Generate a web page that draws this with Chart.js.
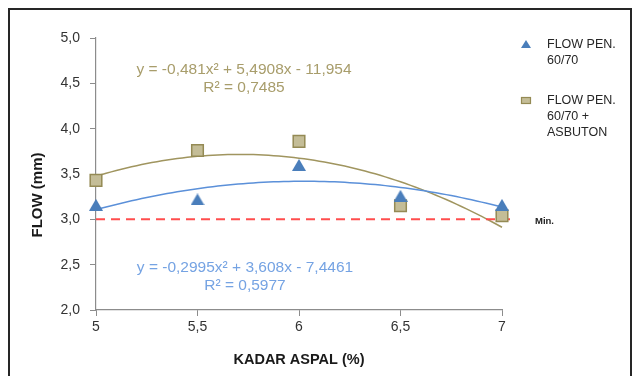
<!DOCTYPE html>
<html>
<head>
<meta charset="utf-8">
<script src="https://cdn.jsdelivr.net/npm/chart.js@4/dist/chart.umd.min.js"></script>
<style>
  html, body { margin: 0; padding: 0; background: #fff; }
  #wrap { width: 638px; height: 376px; position: relative; }
</style>
</head>
<body>
<div id="wrap"><canvas id="chart"></canvas></div>
<script>
// data
const kadarAspal = [5, 5.5, 6, 6.5, 7];
const flowPen = [3.16, 3.22, 3.6, 3.26, 3.16];
const flowAsbuton = [3.43, 3.76, 3.86, 3.15, 3.04];

// polynomial trendlines as printed on the chart (a*x^2 + b*x + c)
const trendPen = [-0.2995, 3.608, -7.4461];
const trendAsbuton = [-0.481, 5.4908, -11.954];
const eqPen = ['y = -0,2995x² + 3,608x - 7,4461', 'R² = 0,5977'];
const eqAsbuton = ['y = -0,481x² + 5,4908x - 11,954', 'R² = 0,7485'];

// minimum flow limit
const minFlow = 3.0;
const minRange = [5, 7.05];
const minLabel = 'Min.';

const xTickLabels = ['5', '5,5', '6', '6,5', '7'];
const yTickLabels = ['2,0', '2,5', '3,0', '3,5', '4,0', '4,5', '5,0'];
const legendPen = ['FLOW PEN.', '60/70'];
const legendAsbuton = ['FLOW PEN.', '60/70 +', 'ASBUTON'];

const FONT = "'Liberation Sans', Arial, sans-serif";
const BLUE = '#4a7ebb';
const BLUE_LINE = '#5b90d9';
const BLUE_TEXT = '#75a3e3';
const TAN_FILL = '#c4bd97';
const TAN_EDGE = '#948a54';
const TAN_LINE = '#a0955f';
const TAN_TEXT = '#a89d6b';

// triangle marker centred on its box (like Excel)
function triangleMarker(w, h) {
  const c = document.createElement('canvas');
  c.width = w; c.height = h;
  const g = c.getContext('2d');
  g.fillStyle = BLUE;
  g.beginPath();
  g.moveTo(w / 2, 0);
  g.lineTo(w, h);
  g.lineTo(0, h);
  g.closePath();
  g.fill();
  return c;
}

const extras = {
  id: 'extras',
  beforeDatasetsDraw(chart) {
    const { ctx, scales: { x, y } } = chart;
    const drawTrend = (coef, color) => {
      ctx.save();
      ctx.strokeStyle = color;
      ctx.lineWidth = 1.5;
      ctx.beginPath();
      const x0 = kadarAspal[0], x1 = kadarAspal[kadarAspal.length - 1];
      for (let i = 0; i <= 80; i++) {
        const xv = x0 + (x1 - x0) * i / 80;
        const yv = coef[0] * xv * xv + coef[1] * xv + coef[2];
        const px = x.getPixelForValue(xv), py = y.getPixelForValue(yv);
        if (i === 0) ctx.moveTo(px, py); else ctx.lineTo(px, py);
      }
      ctx.stroke();
      ctx.restore();
    };
    drawTrend(trendAsbuton, TAN_LINE);
    drawTrend(trendPen, BLUE_LINE);
  },
  afterDraw(chart) {
    const { ctx, scales: { x, y } } = chart;
    ctx.save();
    // outer frame
    ctx.strokeStyle = '#262626';
    ctx.lineWidth = 2;
    ctx.strokeRect(9, 9, 622, 400);

    // axis titles
    ctx.fillStyle = '#1a1a1a';
    ctx.font = 'bold 14.5px ' + FONT;
    ctx.textAlign = 'center';
    ctx.textBaseline = 'middle';
    ctx.fillText('KADAR ASPAL (%)', (chart.chartArea.left + chart.chartArea.right) / 2, 360);
    ctx.save();
    ctx.translate(38, 195);
    ctx.rotate(-Math.PI / 2);
    ctx.font = 'bold 15px ' + FONT;
    ctx.fillText('FLOW (mm)', 0, 0);
    ctx.restore();

    // trendline equations
    ctx.font = '15.5px ' + FONT;
    ctx.fillStyle = TAN_TEXT;
    ctx.fillText(eqAsbuton[0], 244, 70);
    ctx.fillText(eqAsbuton[1], 244, 88);
    ctx.fillStyle = BLUE_TEXT;
    ctx.fillText(eqPen[0], 245, 268);
    ctx.fillText(eqPen[1], 245, 286);

    // min label
    ctx.textAlign = 'left';
    ctx.fillStyle = '#222';
    ctx.font = 'bold 9.5px ' + FONT;
    ctx.fillText(minLabel, 535, y.getPixelForValue(minFlow) + 2);

    // legend
    ctx.font = '12.5px ' + FONT;
    ctx.fillStyle = '#262626';
    legendPen.forEach((t, i) => ctx.fillText(t, 547, 45 + i * 16));
    legendAsbuton.forEach((t, i) => ctx.fillText(t, 547, 101 + i * 16));
    ctx.fillStyle = BLUE;
    ctx.beginPath();
    ctx.moveTo(526, 40); ctx.lineTo(531, 48); ctx.lineTo(521, 48);
    ctx.closePath(); ctx.fill();
    ctx.fillStyle = TAN_FILL;
    ctx.strokeStyle = TAN_EDGE;
    ctx.lineWidth = 1.2;
    ctx.fillRect(521.5, 97.5, 9, 6);
    ctx.strokeRect(521.5, 97.5, 9, 6);
    ctx.restore();
  }
};

new Chart(document.getElementById('chart'), {
  type: 'scatter',
  data: {
    datasets: [
      {
        label: 'Min',
        type: 'line',
        data: minRange.map(v => ({ x: v, y: minFlow })),
        borderColor: '#ff4d4d',
        borderWidth: 2,
        borderDash: [9, 6],
        pointRadius: 0,
        clip: false,
        order: 3
      },
      {
        label: 'FLOW PEN. 60/70 + ASBUTON',
        data: kadarAspal.map((v, i) => ({ x: v, y: flowAsbuton[i] })),
        pointStyle: 'rect',
        pointRadius: 8.2,
        backgroundColor: TAN_FILL,
        borderColor: TAN_EDGE,
        borderWidth: 1.5,
        clip: false,
        order: 2
      },
      {
        label: 'FLOW PEN. 60/70',
        data: kadarAspal.map((v, i) => ({ x: v, y: flowPen[i] })),
        pointStyle: triangleMarker(14, 12),
        pointRadius: 7,
        clip: false,
        order: 1
      }
    ]
  },
  options: {
    responsive: true,
    maintainAspectRatio: false,
    animation: false,
    events: [],
    layout: { padding: { left: 10, right: 136, top: 38, bottom: 0 } },
    plugins: {
      legend: { display: false },
      tooltip: { enabled: false }
    },
    scales: {
      x: {
        type: 'linear',
        min: 5,
        max: 7,
        afterFit: s => { s.height = 66; },
        afterBuildTicks: s => { s.ticks = kadarAspal.map(v => ({ value: v })); },
        ticks: {
          callback: (v, i) => xTickLabels[i],
          color: '#333',
          font: { family: FONT, size: 14 },
          padding: 3,
          maxRotation: 0
        },
        grid: { drawOnChartArea: false, tickLength: 6, color: '#8c8c8c' },
        border: { color: '#8c8c8c', width: 1.2 }
      },
      y: {
        min: 2,
        max: 5,
        afterFit: s => { s.width = 86; },
        ticks: {
          stepSize: 0.5,
          callback: (v, i) => yTickLabels[i],
          color: '#333',
          font: { family: FONT, size: 14 },
          padding: 10
        },
        grid: { drawOnChartArea: false, tickLength: 6, color: '#8c8c8c' },
        border: { color: '#8c8c8c', width: 1.2 }
      }
    }
  },
  plugins: [extras]
});
</script>
</body>
</html>
